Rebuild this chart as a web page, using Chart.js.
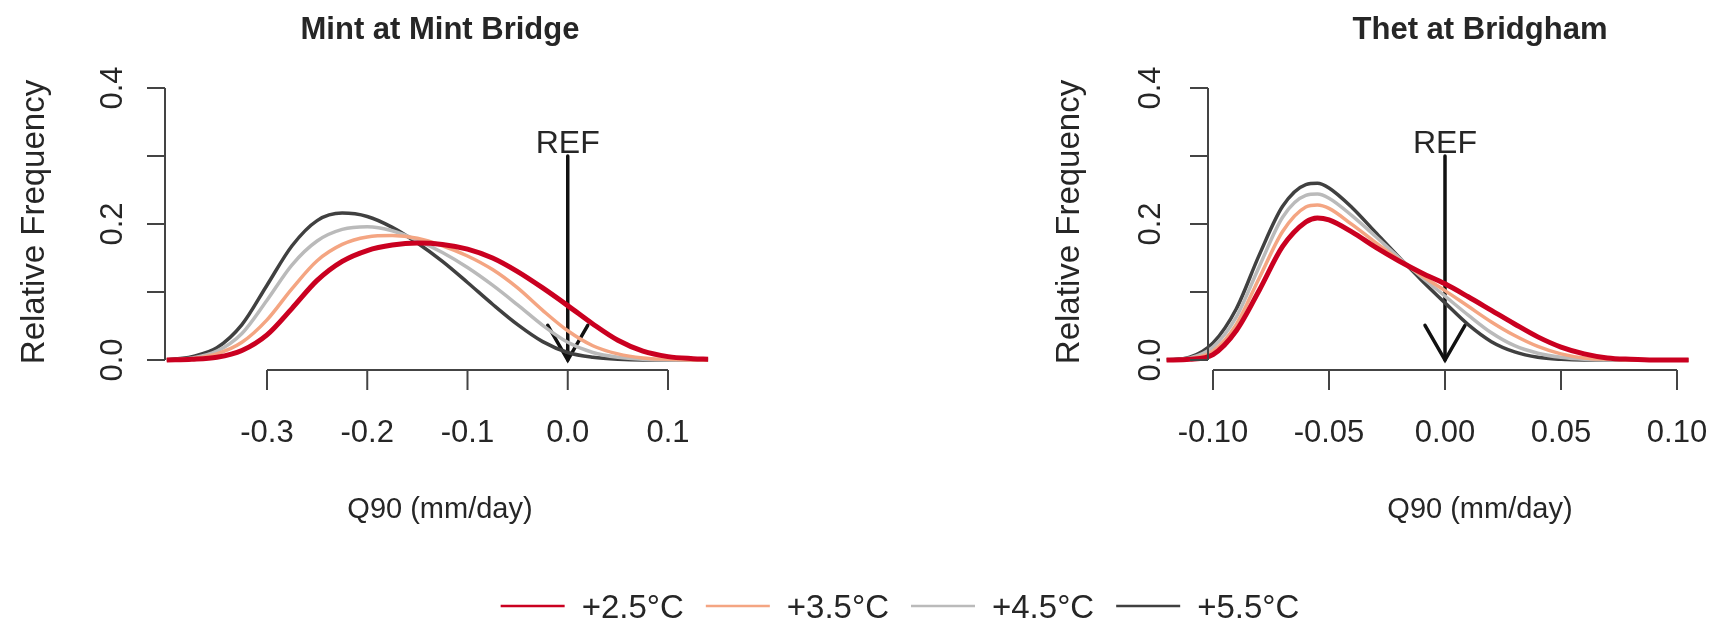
<!DOCTYPE html>
<html>
<head>
<meta charset="utf-8">
<title>Q90 change under warming</title>
<script src="https://cdn.jsdelivr.net/npm/chart.js@4.4.1/dist/chart.umd.min.js"></script>
<style>
  html, body { margin: 0; padding: 0; background: #fff; }
  #figure { display: block; }
</style>
</head>
<body>
<canvas id="figure" width="1719" height="639"></canvas>
<script>
// warming scenarios
var scenarios = ['+2.5°C', '+3.5°C', '+4.5°C', '+5.5°C'];
var scenarioColors = ['#CA0020', '#F4A582', '#BABABA', '#404040'];
var scenarioWidths = [5, 3.5, 3.5, 3.5];

// Mint at Mint Bridge: change in Q90 (mm/day) and relative frequency
var mintQ90 = [-0.400, -0.375, -0.350, -0.325, -0.300, -0.275, -0.250, -0.225, -0.200, -0.175, -0.150, -0.125,
               -0.100, -0.075, -0.050, -0.025, 0.000, 0.025, 0.050, 0.075, 0.100, 0.125, 0.140];
var mint25 = [0.000, 0.001, 0.004, 0.014, 0.037, 0.076, 0.117, 0.145, 0.161, 0.169, 0.172, 0.170,
              0.163, 0.150, 0.130, 0.106, 0.080, 0.053, 0.029, 0.013, 0.005, 0.002, 0.001];
var mint35 = [0.000, 0.002, 0.009, 0.026, 0.059, 0.105, 0.146, 0.170, 0.181, 0.183, 0.179, 0.168,
              0.153, 0.133, 0.106, 0.073, 0.043, 0.021, 0.009, 0.003, 0.001, 0.000, 0.000];
var mint45 = [0.000, 0.003, 0.013, 0.039, 0.088, 0.140, 0.175, 0.192, 0.196, 0.190, 0.176, 0.158,
              0.136, 0.110, 0.081, 0.051, 0.026, 0.011, 0.004, 0.001, 0.000, 0.000, 0.000];
var mint55 = [0.000, 0.005, 0.018, 0.052, 0.110, 0.168, 0.205, 0.216, 0.211, 0.195, 0.172, 0.145,
              0.114, 0.082, 0.052, 0.027, 0.011, 0.004, 0.001, 0.000, 0.000, 0.000, 0.000];

// Thet at Bridgham
var thetQ90 = [-0.120, -0.110, -0.100, -0.090, -0.080, -0.070, -0.060, -0.055, -0.050, -0.040, -0.030, -0.020,
               -0.010, 0.000, 0.010, 0.020, 0.030, 0.040, 0.050, 0.060, 0.070, 0.080, 0.090, 0.105];
var thet25 = [0.000, 0.001, 0.008, 0.043, 0.103, 0.167, 0.203, 0.209, 0.206, 0.188, 0.166, 0.146,
              0.128, 0.112, 0.093, 0.073, 0.053, 0.034, 0.019, 0.009, 0.003, 0.001, 0.000, 0.000];
var thet35 = [0.000, 0.002, 0.013, 0.052, 0.121, 0.189, 0.225, 0.228, 0.223, 0.199, 0.173, 0.148,
              0.124, 0.102, 0.079, 0.056, 0.036, 0.020, 0.009, 0.003, 0.001, 0.000, 0.000, 0.000];
var thet45 = [0.000, 0.003, 0.019, 0.063, 0.138, 0.210, 0.242, 0.244, 0.238, 0.212, 0.182, 0.151,
              0.122, 0.094, 0.066, 0.040, 0.021, 0.010, 0.004, 0.001, 0.000, 0.000, 0.000, 0.000];
var thet55 = [0.000, 0.004, 0.025, 0.075, 0.155, 0.226, 0.258, 0.260, 0.253, 0.224, 0.188, 0.152,
              0.117, 0.084, 0.052, 0.027, 0.012, 0.004, 0.001, 0.000, 0.000, 0.000, 0.000, 0.000];

// axis ticks
var freqTicks = [0, 0.1, 0.2, 0.3, 0.4];
var freqTickLabels = ['0.0', '', '0.2', '', '0.4'];
var mintTicks = [-0.3, -0.2, -0.1, 0.0, 0.1];
var mintTickLabels = ['-0.3', '-0.2', '-0.1', '0.0', '0.1'];
var thetTicks = [-0.10, -0.05, 0.00, 0.05, 0.10];
var thetTickLabels = ['-0.10', '-0.05', '0.00', '0.05', '0.10'];

// reference arrow (x position, from / to frequency)
var refQ90 = 0.0;
var refArrow = [0.3, 0.0];

var W = 1719, H = 639;
var FONT = '"Liberation Sans", Arial, Helvetica, sans-serif';
var INK = '#262626';

// value range that puts v0 at pixel p0 and v1 at pixel p1 across the whole canvas
function span(v0, p0, v1, p1, size) {
    var k = (v1 - v0) / (p1 - p0);
    var a = v0 - p0 * k, b = v0 + (size - p0) * k;
    return { min: Math.min(a, b), max: Math.max(a, b) };
}
var xMint = span(-0.3, 267, 0.1, 668, W);
var xThet = span(-0.10, 1213, 0.10, 1677, W);
var yFreq = span(0, 360, 0.4, 88, H);

var panels = [
    { xAxis: 'xMint', title: 'Mint at Mint Bridge', centerX: 440, yAxisX: 165, yTickBase: 122, yTitleBase: 44,
      ticks: mintTicks, tickLabels: mintTickLabels },
    { xAxis: 'xThet', title: 'Thet at Bridgham', centerX: 1480, yAxisX: 1208, yTickBase: 1160, yTitleBase: 1079,
      ticks: thetTicks, tickLabels: thetTickLabels }
];
var xAxisY = 370;

function series(xs, ys) {
    return xs.map(function (x, i) { return { x: x, y: ys[i] }; });
}

function curve(i, xs, ys, axis) {
    return {
        label: scenarios[i],
        data: series(xs, ys),
        xAxisID: axis,
        yAxisID: 'yFreq',
        borderColor: scenarioColors[i],
        borderWidth: scenarioWidths[i],
        pointRadius: 0,
        fill: false,
        cubicInterpolationMode: 'monotone'
    };
}

var datasets = [
    curve(0, mintQ90, mint25, 'xMint'),
    curve(1, mintQ90, mint35, 'xMint'),
    curve(2, mintQ90, mint45, 'xMint'),
    curve(3, mintQ90, mint55, 'xMint'),
    curve(0, thetQ90, thet25, 'xThet'),
    curve(1, thetQ90, thet35, 'xThet'),
    curve(2, thetQ90, thet45, 'xThet'),
    curve(3, thetQ90, thet55, 'xThet')
];

function segment(ctx, x0, y0, x1, y1) {
    ctx.beginPath();
    ctx.moveTo(x0, y0);
    ctx.lineTo(x1, y1);
    ctx.stroke();
}

function text(ctx, str, x, y, font, align, rotate) {
    ctx.save();
    ctx.font = font;
    ctx.fillStyle = INK;
    ctx.textAlign = align || 'center';
    ctx.textBaseline = 'alphabetic';
    ctx.translate(x, y);
    if (rotate) ctx.rotate(-Math.PI / 2);
    ctx.fillText(str, 0, 0);
    ctx.restore();
}

// base-graphics style axes, titles, REF arrow and legend
var rStyle = {
    id: 'rStyle',
    beforeDatasetsDraw: function (chart) {
        var ctx = chart.ctx, y = chart.scales.yFreq;
        ctx.save();
        ctx.strokeStyle = '#111';
        ctx.lineWidth = 3.5;
        ctx.lineCap = 'round';
        panels.forEach(function (p) {
            var x = chart.scales[p.xAxis].getPixelForValue(refQ90);
            var top = y.getPixelForValue(refArrow[0]);
            var tip = y.getPixelForValue(refArrow[1]);
            segment(ctx, x, top, x, tip);
            var len = 40, a = Math.PI / 6;
            ctx.beginPath();
            ctx.moveTo(x - len * Math.sin(a), tip - len * Math.cos(a));
            ctx.lineTo(x, tip);
            ctx.lineTo(x + len * Math.sin(a), tip - len * Math.cos(a));
            ctx.stroke();
            text(ctx, 'REF', x, top - 3, '32px ' + FONT, 'center');
        });
        ctx.restore();
    },
    afterDatasetsDraw: function (chart) {
        var ctx = chart.ctx, y = chart.scales.yFreq;
        ctx.save();
        ctx.strokeStyle = '#444';
        ctx.lineWidth = 2;
        panels.forEach(function (p) {
            var xs = chart.scales[p.xAxis];
            // y axis
            segment(ctx, p.yAxisX, y.getPixelForValue(freqTicks[0]), p.yAxisX, y.getPixelForValue(freqTicks[freqTicks.length - 1]));
            freqTicks.forEach(function (t, i) {
                var py = y.getPixelForValue(t);
                segment(ctx, p.yAxisX - 18, py, p.yAxisX, py);
                if (freqTickLabels[i]) text(ctx, freqTickLabels[i], p.yTickBase, py, '31px ' + FONT, 'center', true);
            });
            text(ctx, 'Relative Frequency', p.yTitleBase, 222, '33px ' + FONT, 'center', true);
            // x axis
            segment(ctx, xs.getPixelForValue(p.ticks[0]), xAxisY, xs.getPixelForValue(p.ticks[p.ticks.length - 1]), xAxisY);
            p.ticks.forEach(function (t, i) {
                var px = xs.getPixelForValue(t);
                segment(ctx, px, xAxisY, px, xAxisY + 20);
                text(ctx, p.tickLabels[i], px, 442, '31px ' + FONT, 'center');
            });
            text(ctx, 'Q90 (mm/day)', p.centerX, 518, '29px ' + FONT, 'center');
            text(ctx, p.title, p.centerX, 39, 'bold 31px ' + FONT, 'center');
        });

        // legend
        var font = '33px ' + FONT, sample = 64, gap = 17, between = 22, ly = 606;
        ctx.font = font;
        var items = chart.data.datasets.slice(0, 4);
        var total = 0;
        items.forEach(function (d, i) {
            total += sample + gap + ctx.measureText(d.label).width + (i < items.length - 1 ? between : 0);
        });
        var lx = 900 - total / 2;
        items.forEach(function (d) {
            ctx.strokeStyle = d.borderColor;
            ctx.lineWidth = 2.5;
            segment(ctx, lx, ly, lx + sample, ly);
            lx += sample + gap;
            text(ctx, d.label, lx, ly + 12, font, 'left');
            ctx.font = font;
            lx += ctx.measureText(d.label).width + between;
        });
        ctx.restore();
    }
};

new Chart(document.getElementById('figure'), {
    type: 'line',
    data: { datasets: datasets },
    options: {
        responsive: false,
        animation: false,
        events: [],
        layout: { padding: 0 },
        scales: {
            xMint: { type: 'linear', display: false, bounds: 'data', min: xMint.min, max: xMint.max },
            xThet: { type: 'linear', display: false, bounds: 'data', min: xThet.min, max: xThet.max },
            yFreq: { type: 'linear', display: false, bounds: 'data', min: yFreq.min, max: yFreq.max }
        },
        plugins: {
            legend: { display: false },
            tooltip: { enabled: false },
            title: { display: false }
        }
    },
    plugins: [rStyle]
});
</script>
</body>
</html>
